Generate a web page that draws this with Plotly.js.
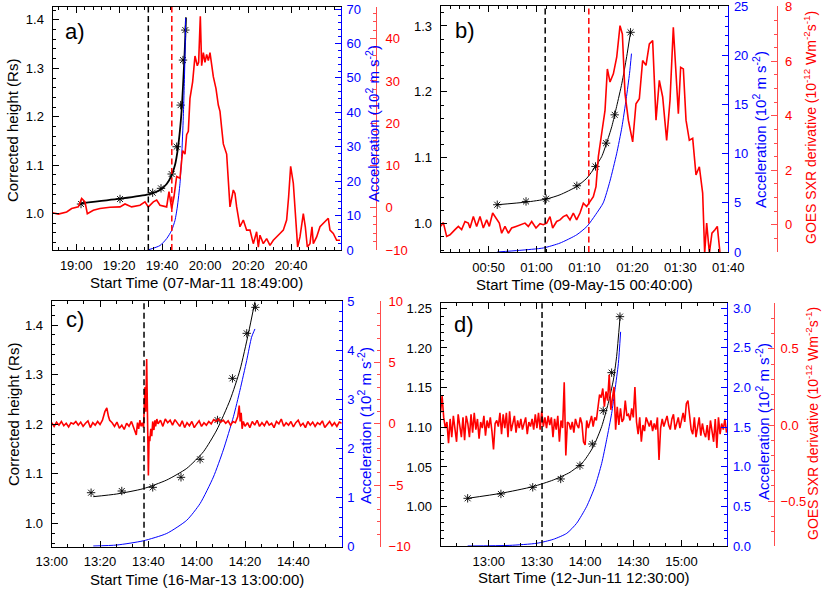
<!DOCTYPE html>
<html>
<head>
<meta charset="utf-8">
<script src="https://cdn.plot.ly/plotly-3.0.1.min.js"></script>
<style>html,body{margin:0;padding:0;background:#fff;}#chart{width:822px;height:591px;}</style>
</head>
<body>
<div id="chart"></div>
<script>
// ---------------- DATA (x = minutes after each panel's start time) ----------------
// Panel a) start 07-Mar-11 18:49:00
const aTickVals = [11, 31, 51, 71, 91, 111];
const aTickText = ['19:00', '19:20', '19:40', '20:00', '20:20', '20:40'];
const aHtT = [13.26, 31.40, 46.59, 50.47, 55.43, 57.75, 59.61, 60.70, 61.78];
const aHtV = [1.0196, 1.030, 1.043, 1.052, 1.0816, 1.138, 1.224, 1.317, 1.379];
const aFitT = [13.26, 31.40, 44.57, 50.00, 53.10, 55.43, 56.98, 58.22, 59.30, 60.08, 60.70, 61.32, 61.78, 62.09];
const aFitV = [1.021, 1.0306, 1.0396, 1.0486, 1.0610, 1.0795, 1.1002, 1.1312, 1.1725, 1.2138, 1.2620, 1.3172, 1.3654, 1.4053];
const aAccT = [44.57, 50.00, 53.10, 55.43, 56.98, 58.06, 59.30, 60.08, 60.85, 61.32, 61.78, 61.94];
const aAccV = [0.05, 1.3, 3.3, 5.7, 8.6, 12.5, 19.3, 27.1, 38.7, 48.4, 61.1, 67.4];
const aSxrT = [0, 2.71, 6.59, 8.91, 12.02, 13.57, 15.12, 16.20, 18.99, 22.09, 26.74, 31.40, 33.72, 36.82, 40.70, 43.02, 44.57, 46.90, 48.45, 50.00, 53.10, 54.19, 55.43, 56.51, 57.75, 59.30, 60.54, 61.63, 62.40, 63.18, 63.95, 65.19, 66.28, 67.36, 67.98, 68.76, 69.38, 70.16, 70.93, 71.71, 72.48, 73.26, 74.81, 76.05, 77.13, 77.91, 78.68, 79.46, 81.01, 82.56, 84.11, 84.88, 85.66, 87.21, 88.76, 90.31, 91.86, 93.41, 94.96, 95.74, 96.51, 98.06, 99.61, 101.16, 102.71, 104.26, 105.81, 107.36, 108.91, 109.84, 110.78, 112.02, 113.26, 114.03, 115.12, 116.67, 117.60, 118.53, 119.77, 120.70, 121.32, 122.87, 124.42, 125.97, 128.29, 129.07, 130.62, 132.17, 133.72];
const aSxrV = [-1.2, -1.5, -1.0, -0.2, 0.2, 2.2, 1.4, -1.4, -0.6, -0.2, 0.1, 0.2, 0.9, 0.2, 0.6, 1.4, 0.2, 1.4, 1.8, 0.6, 0.2, 3.8, -0.2, 2.6, 7.4, 7.0, 13.5, 12.7, 17.3, 18.1, 25.9, 29.8, 35.9, 33.6, 34.4, 45.3, 33.6, 36.7, 34.4, 36.3, 34.8, 36.7, 31.0, 28.2, 24.3, 22.8, 18.9, 15.1, 12.7, 0.2, 4.2, 3.4, 0.2, -4.5, -2.9, -5.3, -5.3, -8.5, -5.7, -9.3, -6.5, -8.5, -7.3, -8.9, -7.7, -6.8, -6.1, -5.3, -2.9, 2.6, 9.8, 5.8, -5.3, -9.3, -6.9, -1.4, -4.5, -9.3, -8.5, -4.5, -8.5, -6.9, -4.5, -3.7, -2.5, -5.3, -6.1, -7.7, -7.7];
const aDashBlack = 44.57, aDashRed = 55.5;

// Panel b) start 09-May-15 00:40:00
const bTickVals = [10, 20, 30, 40, 50, 60];
const bTickText = ['00:50', '01:00', '01:10', '01:20', '01:30', '01:40'];
const bHtT = [11.8, 17.8, 22.0, 28.4, 32.3, 34.5, 36.3, 39.6];
const bHtV = [1.0288, 1.0338, 1.0379, 1.0576, 1.0869, 1.1222, 1.1652, 1.2904];
const bFitT = [11.8, 17.8, 22.0, 24.9, 28.4, 30.5, 32.3, 33.6, 34.6, 35.7, 36.7, 37.8, 38.8, 39.6];
const bFitV = [1.0288, 1.0328, 1.0374, 1.0439, 1.0566, 1.0692, 1.0869, 1.1020, 1.1222, 1.1475, 1.1778, 1.2131, 1.2535, 1.2904];
const bAccT = [11.8, 16.5, 21.4, 24.9, 28.4, 30.5, 32.3, 33.9, 35.3, 36.7, 37.8, 38.7, 39.4, 39.8];
const bAccV = [0, 0.17, 0.41, 0.91, 1.76, 2.6, 3.79, 5.0, 7.2, 10.0, 12.7, 15.6, 18.2, 20.2];
const bSxrT = [0, 0.55, 1.24, 1.94, 2.98, 3.68, 4.37, 5.07, 5.76, 6.11, 6.81, 7.50, 8.20, 8.89, 9.59, 10.14, 10.84, 11.54, 12.23, 12.72, 13.41, 14.11, 14.80, 15.71, 16.54, 17.58, 18.28, 18.98, 19.88, 20.72, 21.41, 22.11, 22.80, 23.36, 24.19, 24.89, 25.58, 26.28, 26.97, 27.67, 28.36, 29.06, 29.76, 30.45, 31.15, 31.84, 32.40, 32.89, 33.58, 34.28, 34.77, 35.32, 36.02, 36.72, 37.41, 37.90, 38.45, 39.15, 40.05, 40.74, 41.44, 42.13, 42.83, 43.53, 44.22, 44.92, 45.61, 46.31, 47.14, 47.84, 48.53, 49.09, 49.58, 50.06, 50.62, 51.18, 51.87, 52.57, 53.26, 53.96, 54.65, 55.07, 55.49, 56.05, 56.59, 57.22, 57.71, 58.27];
const bSxrV = [-0.06, 0.08, -0.43, -0.37, -0.18, -0.06, -0.18, 0.12, 0.06, -0.12, 0.30, -0.06, 0.30, -0.12, 0.18, -0.06, 0.43, 0.24, 0.06, -0.31, -0.06, -0.31, -0.12, -0.06, 0.00, 0.06, -0.06, 0.12, -0.12, 0.04, 0.00, 0.06, 0.30, -0.12, 0.12, 0.18, 0.30, 0.36, 0.18, 0.43, 0.18, 0.43, 0.79, 0.67, 0.85, 1.03, 1.40, 2.50, 3.35, 4.20, 5.72, 5.24, 5.54, 6.15, 7.31, 7.00, 4.81, 3.84, 3.04, 4.44, 4.63, 6.03, 5.85, 6.64, 6.76, 3.84, 5.30, 4.69, 3.10, 4.57, 7.25, 5.78, 4.08, 5.78, 5.72, 3.84, 3.10, 3.17, 1.83, 2.13, 1.16, -1.04, 0.06, -1.04, -0.31, -0.18, -0.06, -1.04];
const bDashBlack = 21.8, bDashRed = 30.9;

// Panel c) start 16-Mar-13 13:00:00
const cTickVals = [0, 20, 40, 60, 80, 100];
const cTickText = ['13:00', '13:20', '13:40', '14:00', '14:20', '14:40'];
const cHtT = [16.3, 29.0, 41.8, 53.5, 61.4, 68.6, 74.8, 80.7, 84.3];
const cHtV = [1.0618, 1.0652, 1.0726, 1.0928, 1.1291, 1.2084, 1.2924, 1.3832, 1.4356];
const cFitT = [17.2, 26.9, 37.9, 47.6, 55.9, 62.8, 68.3, 73.8, 77.9, 81.4, 84.1];
const cFitV = [1.0538, 1.0592, 1.0699, 1.0874, 1.1109, 1.1445, 1.1882, 1.2487, 1.3092, 1.3832, 1.4471];
const cAccT = [17.2, 26.9, 37.9, 47.6, 55.9, 61.4, 66.9, 71.0, 75.2, 77.9, 80.7, 82.7, 84.1];
const cAccV = [0.014, 0.034, 0.12, 0.27, 0.54, 0.88, 1.42, 1.97, 2.65, 3.19, 3.80, 4.27, 4.44];
const cSxrT = [0,1,2,3,4,5,6,7,8,9,10,11,12,13,14,15,16,17,18,19,20,21,22,22.8,23.5,24,25,26,27,28,29,30,31,32,33,34,35,35.5,36,36.5,37,37.5,38,38.6,38.9,39.3,39.6,40.0,40.3,40.6,41.0,41.4,41.8,42.3,42.7,43,43.5,44,45,46,47,48,49,50,51,52,53,54,55,56,57,58,59,60,61,62,63,64,65,66,67,68,69,70,71,72,73,74,75,76,77,77.6,78,78.4,78.8,79.3,80,81,82,83,84,85,86,87,88,89,90,91,92,93,94,95,96,97,98,99,100,101,102,103,104,105,106,107,108,109,110,111,112,113,114,115,116,117,118,119,120];
const cSxrV = [0.1,-0.2,0.15,-0.1,0.2,-0.15,0.05,-0.25,0.1,0.0,0.2,-0.1,0.15,-0.2,0.05,0.25,-0.3,0.1,-0.1,0.2,-0.05,0.3,1.0,1.3,0.6,0.3,0.1,-0.2,0.15,-0.35,-0.1,-0.45,0.05,-0.2,0.2,-0.3,-0.9,0.1,-0.4,0.3,-0.2,0.1,-0.3,3.0,1.0,5.3,1.5,-4.2,-1.0,-1.4,-0.4,-1.0,0.2,-0.5,0.3,-0.2,0.4,0.0,0.3,-0.2,0.4,0.1,0.3,-0.1,0.35,0.05,-0.2,0.25,-0.3,0.1,-0.15,0.2,-0.3,0.0,0.25,-0.2,0.1,-0.1,0.2,0.0,0.35,0.2,0.4,0.15,0.3,0.05,0.25,-0.1,0.2,0.1,0.6,1.5,0.2,0.9,-0.4,0.2,-0.2,0.1,-0.3,0.2,-0.1,0.3,-0.2,0.1,-0.15,0.25,-0.1,0.05,-0.3,0.2,0.0,0.4,-0.2,0.1,-0.1,0.2,-0.25,0.1,0.3,-0.15,0.05,-0.3,0.2,-0.1,0.15,-0.2,0.1,-0.05,0.25,-0.3,0.0,0.2,-0.15,0.1,-0.2,0.15,0.05];
const cDashBlack = 38.2;

// Panel d) start 12-Jun-11 12:30:00
const dTickVals = [30, 60, 90, 120, 150];
const dTickText = ['13:00', '13:30', '14:00', '14:30', '15:00'];
const dHtT = [16.9, 37.6, 57.4, 74.8, 86.8, 94.5, 101.3, 106.5, 111.7];
const dHtV = [1.0105, 1.0160, 1.0244, 1.0349, 1.0517, 1.0790, 1.1210, 1.1689, 1.2395];
const dFitT = [16.9, 37.6, 57.4, 70.2, 80.6, 88.9, 95.1, 100.3, 104.4, 107.6, 109.6, 111.7];
const dFitV = [1.0105, 1.0168, 1.0252, 1.0336, 1.0433, 1.0567, 1.0756, 1.1008, 1.1303, 1.1597, 1.1891, 1.2374];
const dAccT = [16.9, 43.2, 59.8, 70.2, 78.6, 84.7, 90.9, 96.1, 100.3, 103.4, 106.5, 108.6, 110.7, 112.1];
const dAccV = [0, 0.008, 0.034, 0.084, 0.16, 0.286, 0.496, 0.748, 1.04, 1.34, 1.67, 1.97, 2.30, 2.70];
const dSxrV = [0.08,0.19,0.05,-0.02,0.02,-0.12,0.04,-0.08,0.06,-0.03,
 -0.11,0.07,-0.02,-0.08,0.05,-0.10,0.06,0.01,-0.08,0.07,
 -0.05,0.08,-0.03,0.04,-0.09,0.02,-0.02,0.06,-0.07,0.03,
 -0.02,0.05,-0.04,-0.16,0.01,0.03,-0.01,0.08,-0.06,0.07,
 -0.02,0.08,-0.08,0.09,-0.04,0.02,0.06,-0.05,0.03,-0.02,
 0.04,-0.03,0.01,0.05,-0.06,0.02,-0.01,0.04,-0.03,0.07,
 -0.02,0.08,-0.03,0.09,-0.01,0.05,-0.02,0.06,0.00,0.05,
 -0.08,0.04,-0.03,0.06,-0.11,0.03,-0.02,0.28,-0.20,0.02,
 0.01,-0.03,0.02,-0.05,0.04,0.00,-0.02,0.05,0.01,-0.11,
 -0.13,0.03,-0.02,0.02,0.06,-0.01,0.05,0.03,0.12,0.20,
 0.18,0.24,0.12,0.22,0.16,0.33,0.10,0.19,0.25,-0.03,
 0.12,0.00,0.11,0.02,0.04,0.16,0.06,0.07,0.03,0.11,
 0.05,0.25,0.02,-0.06,0.05,-0.11,0.00,-0.04,0.05,0.02,
 -0.01,0.03,-0.04,0.01,-0.03,0.05,-0.23,-0.02,0.04,-0.01,
 0.03,0.06,0.00,-0.03,0.04,0.07,-0.03,0.01,0.05,-0.02,
 0.04,0.08,0.02,0.14,0.16,0.07,-0.03,-0.06,0.05,-0.08,
 -0.02,0.05,-0.07,0.01,-0.05,-0.08,0.00,-0.10,0.03,-0.04,
 -0.11,0.04,-0.15,0.05,-0.06,0.01,-0.03,0.04,-0.05];
const dSxrT = dSxrV.map((_, i) => i); // one sample per minute
const dDashBlack = 63.2;

// ---------------- STYLE / LAYOUT ----------------
const W = 822, H = 591;
const FONT = 'Liberation Sans, Arial, Helvetica, sans-serif';
const RED = '#ff0000', BLUE = '#0000ff';
const px = v => v / W, py = v => 1 - v / H;

function xAxis(dom, range, yName, tv, tt, minorDt, minor0) {
  return {domain: dom, range: range, anchor: yName, showline: true, linecolor: 'black', linewidth: 1,
    mirror: 'ticks', ticks: 'inside', ticklen: 6, tickcolor: 'black', tickmode: 'array',
    tickvals: tv, ticktext: tt, ticklabelstandoff: 3,
    minor: {ticks: 'inside', ticklen: 3, tickcolor: 'black', tick0: minor0, dtick: minorDt, showgrid: false},
    showgrid: false, zeroline: false, tickfont: {family: FONT, size: 13, color: 'black'}, fixedrange: true};
}
function leftAxis(dom, range, xName, dt, minorDt, fmt) {
  return {domain: dom, range: range, anchor: xName, showline: true, linecolor: 'black', linewidth: 1,
    ticks: 'inside', ticklen: 6, tickcolor: 'black', tickmode: 'linear', tick0: 0, dtick: dt, tickformat: fmt,
    ticklabelstandoff: 5, ticklabeloverflow: 'allow',
    minor: {ticks: 'inside', ticklen: 3, tickcolor: 'black', dtick: minorDt, showgrid: false},
    showgrid: false, zeroline: false, tickfont: {family: FONT, size: 13, color: 'black'}, fixedrange: true};
}
function blueAxis(over, xName, range, dt, minorDt, fmt) {
  return {overlaying: over, side: 'right', anchor: xName, range: range, showline: true, linecolor: BLUE, linewidth: 1,
    ticks: 'inside', ticklen: 6, tickcolor: BLUE, tickmode: 'linear', tick0: 0, dtick: dt, tickformat: fmt,
    ticklabelstandoff: 2, ticklabeloverflow: 'allow',
    minor: {ticks: 'inside', ticklen: 3, tickcolor: BLUE, dtick: minorDt, showgrid: false},
    showgrid: false, zeroline: false, tickfont: {family: FONT, size: 13, color: BLUE}, fixedrange: true};
}
function redAxis(over, pos, range, dt, minorDt, fmt, standoff) {
  return {overlaying: over, side: 'right', anchor: 'free', position: pos, range: range, showline: true,
    linecolor: '#ff4d4d', linewidth: 1, ticks: 'inside', ticklen: 6, tickcolor: '#ff4d4d',
    tickmode: 'linear', tick0: 0, dtick: dt, tickformat: fmt, ticklabelstandoff: standoff,
    ticklabeloverflow: 'allow',
    minor: {ticks: 'inside', ticklen: 3, tickcolor: '#ff4d4d', dtick: minorDt, showgrid: false},
    showgrid: false, zeroline: false, tickfont: {family: FONT, size: 13, color: RED}, fixedrange: true};
}

const domA = {x: [px(52.5), px(341)], y: [py(250), py(7)]};
const domB = {x: [px(440.7), px(728.3)], y: [py(252), py(6)]};
const domC = {x: [px(51.7), px(341.7)], y: [py(546.7), py(301)]};
const domD = {x: [px(440.5), px(727.3)], y: [py(546), py(303.3)]};

const layout = {
  width: W, height: H, margin: {l: 0, r: 0, t: 0, b: 0},
  paper_bgcolor: '#ffffff', plot_bgcolor: 'rgba(0,0,0,0)', showlegend: false,
  font: {family: FONT, size: 13, color: 'black'},
  // panel a
  xaxis: xAxis(domA.x, [0, 134.2], 'y', aTickVals, aTickText, 4, 11),
  yaxis: leftAxis(domA.y, [0.9246, 1.4267], 'x', 0.1, 0.02, '.1f'),
  yaxis2: blueAxis('y', 'x', [0, 70.6], 10, 2, 'd'),
  yaxis3: redAxis('y', px(376), [-10, 47.5], 10, 2, 'd', 6),
  // panel b
  xaxis2: xAxis(domB.x, [0, 60], 'y4', bTickVals, bTickText, 2, 0),
  yaxis4: leftAxis(domB.y, [0.9571, 1.3303], 'x2', 0.1, 0.02, '.1f'),
  yaxis5: blueAxis('y4', 'x2', [0, 25.05], 5, 1, 'd'),
  yaxis6: redAxis('y4', px(777.3), [-1, 8.03], 2, 0.5, 'd', 4),
  // panel c
  xaxis3: xAxis(domC.x, [0, 120], 'y7', cTickVals, cTickText, 20 / 3, 0),
  yaxis7: leftAxis(domC.y, [0.9529, 1.4484], 'x3', 0.1, 0.02, '.1f'),
  yaxis8: blueAxis('y7', 'x3', [0, 5.01], 1, 0.2, 'd'),
  yaxis9: redAxis('y7', px(380), [-10.02, 10.03], 5, 1, 'd', 5),
  // panel d
  xaxis4: xAxis(domD.x, [0, 178.5], 'y10', dTickVals, dTickText, 10, 0),
  yaxis10: leftAxis(domD.y, [0.9504, 1.2563], 'x4', 0.05, 0.01, '.2f'),
  yaxis11: blueAxis('y10', 'x4', [0, 3.06], 0.5, 0.1, '.1f'),
  yaxis12: redAxis('y10', px(774), [-0.794, 0.799], 0.5, 0.1, '.1f', 3),
  shapes: [],
  annotations: []
};

function vline(xref, yref, xv, color) {
  return {type: 'line', xref: xref, yref: yref + ' domain', x0: xv, x1: xv, y0: 0, y1: 1,
    line: {color: color, width: 1.5, dash: '6px,3.5px'}, layer: 'above'};
}
layout.shapes.push(vline('x', 'y', aDashBlack, 'black'), vline('x', 'y', aDashRed, RED),
  vline('x2', 'y4', bDashBlack, 'black'), vline('x2', 'y4', bDashRed, RED),
  vline('x3', 'y7', cDashBlack, 'black'), vline('x4', 'y10', dDashBlack, 'black'));

function ann(text, x, y, opts) {
  return Object.assign({text: text, xref: 'paper', yref: 'paper', x: px(x), y: py(y), showarrow: false,
    xanchor: 'center', yanchor: 'middle', font: {family: FONT, size: 15, color: 'black'}}, opts || {});
}
const accTitle = 'Acceleration (10<sup>2</sup> m s<sup>-2</sup>)';
const sxrTitle = 'GOES SXR derivative (10<sup>-12</sup> Wm<sup>-2</sup>s<sup>-1</sup>)';
layout.annotations.push(
  ann('a)', 75, 32, {font: {family: FONT, size: 22, color: 'black'}}),
  ann('b)', 465, 30, {font: {family: FONT, size: 22, color: 'black'}}),
  ann('c)', 75, 319, {font: {family: FONT, size: 22, color: 'black'}}),
  ann('d)', 464, 325, {font: {family: FONT, size: 22, color: 'black'}}),
  ann('Corrected height (Rs)', 12, 131, {textangle: -90}),
  ann('Corrected height (Rs)', 13, 415, {textangle: -90}),
  ann(accTitle, 372, 124, {textangle: -90, font: {family: FONT, size: 15, color: BLUE}}),
  ann(accTitle, 759, 130, {textangle: -90, font: {family: FONT, size: 15, color: BLUE}}),
  ann(accTitle, 364, 426, {textangle: -90, font: {family: FONT, size: 15, color: BLUE}}),
  ann(accTitle, 762, 422, {textangle: -90, font: {family: FONT, size: 15, color: BLUE}}),
  ann(sxrTitle, 810, 128, {textangle: -90, font: {family: FONT, size: 14, color: RED}}),
  ann(sxrTitle, 812, 424, {textangle: -90, font: {family: FONT, size: 14, color: RED}}),
  ann('Start Time (07-Mar-11 18:49:00)', 196.8, 282.7),
  ann('Start Time (09-May-15 00:40:00)', 584.5, 284.5),
  ann('Start Time (16-Mar-13 13:00:00)', 196.7, 579.5),
  ann('Start Time (12-Jun-11 12:30:00)', 584, 577.5)
);

function panelTraces(x, yL, yB, yR, sT, sV, aT, aV, fT, fV, hT, hV, fitW) {
  return [
    {type: 'scatter', mode: 'lines', x: sT, y: sV, xaxis: x, yaxis: yR, line: {color: RED, width: 1.6}, hoverinfo: 'skip', cliponaxis: true},
    {type: 'scatter', mode: 'lines', x: aT, y: aV, xaxis: x, yaxis: yB, line: {color: BLUE, width: 1, shape: 'spline', smoothing: 0.6}, hoverinfo: 'skip'},
    {type: 'scatter', mode: 'lines', x: fT, y: fV, xaxis: x, yaxis: yL, line: {color: 'black', width: fitW, shape: 'spline', smoothing: 0.6}, hoverinfo: 'skip'},
    {type: 'scatter', mode: 'markers', x: hT, y: hV, xaxis: x, yaxis: yL,
      marker: {symbol: 'asterisk-open', size: 7, color: 'black', line: {color: 'black', width: 0.9}}, hoverinfo: 'skip'}
  ];
}
const data = [].concat(
  panelTraces('x', 'y', 'y2', 'y3', aSxrT, aSxrV, aAccT, aAccV, aFitT, aFitV, aHtT, aHtV, 1.8),
  panelTraces('x2', 'y4', 'y5', 'y6', bSxrT, bSxrV, bAccT, bAccV, bFitT, bFitV, bHtT, bHtV, 1),
  panelTraces('x3', 'y7', 'y8', 'y9', cSxrT, cSxrV, cAccT, cAccV, cFitT, cFitV, cHtT, cHtV, 1),
  panelTraces('x4', 'y10', 'y11', 'y12', dSxrT, dSxrV, dAccT, dAccV, dFitT, dFitV, dHtT, dHtV, 1)
);

Plotly.newPlot('chart', data, layout, {staticPlot: true, displayModeBar: false});
</script>
</body>
</html>
